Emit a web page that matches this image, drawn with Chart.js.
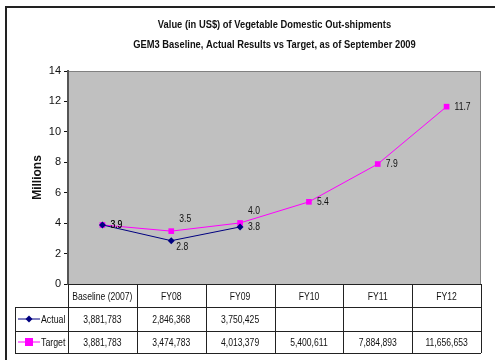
<!DOCTYPE html>
<html>
<head>
<meta charset="utf-8">
<script src="https://cdn.jsdelivr.net/npm/chart.js@4"></script>
<style>
  body { margin: 0; background: #fff; }
  #wrap { width: 495px; height: 360px; }
</style>
</head>
<body>
<div id="wrap"><canvas id="myChart" width="495" height="360"></canvas></div>
<script>
// valeurs (US$) - le graph est en millions
const categories = ['Baseline (2007)', 'FY08', 'FY09', 'FY10', 'FY11', 'FY12'];
const actualUsd = [3881783, 2846368, 3750425];
const targetUsd = [3881783, 3474783, 4013379, 5400611, 7884893, 11656653];
const yMax = 14;
const yStep = 2;
const titleLines = ['Value (in US$) of Vegetable Domestic Out-shipments',
                    'GEM3 Baseline, Actual Results vs Target, as of September 2009'];

// ou mettre les etiquettes de chaque point
const actualLabelPos = ['right', 'below', 'right'];
const targetLabelPos = ['right', 'above', 'above', 'right', 'right', 'right'];

const SANS = '"Liberation Sans", Arial, sans-serif';

const toMillions = v => v / 1000000;
const fmt = v => v.toLocaleString('en-US');

// texte serre (police etroite)
function drawTight(ctx, text, x, y, align, sx) {
  ctx.save();
  ctx.translate(x, y);
  ctx.scale(sx, 1);
  ctx.textAlign = align;
  ctx.fillText(text, 0, 0);
  ctx.restore();
}

// fond blanc + cadre + zone grise + titre
const backgroundPlugin = {
  id: 'backgroundPlugin',
  beforeDraw(chart) {
    const ctx = chart.ctx;
    const a = chart.chartArea;
    ctx.save();
    ctx.fillStyle = '#fff';
    ctx.fillRect(0, 0, chart.width, chart.height);
    ctx.strokeStyle = '#222';
    ctx.lineWidth = 2;
    ctx.beginPath();
    ctx.moveTo(6, chart.height);
    ctx.lineTo(6, 7);
    ctx.lineTo(chart.width, 7);
    ctx.stroke();
    ctx.fillStyle = '#c0c0c0';
    ctx.fillRect(a.left, a.top, a.right - a.left, a.bottom - a.top);
    ctx.strokeStyle = '#808080';
    ctx.lineWidth = 1;
    ctx.strokeRect(a.left + 0.5, a.top + 0.5, a.right - a.left - 1, a.bottom - a.top);

    ctx.fillStyle = '#111';
    ctx.font = 'bold 11px ' + SANS;
    ctx.textBaseline = 'middle';
    const cx = (a.left + a.right) / 2;
    drawTight(ctx, titleLines[0], cx, 25, 'center', 0.85);
    drawTight(ctx, titleLines[1], cx, 45, 'center', 0.85);
    ctx.restore();
  }
};

// etiquettes des valeurs sur les points
const valueLabels = {
  id: 'valueLabels',
  afterDatasetsDraw(chart) {
    const ctx = chart.ctx;
    ctx.save();
    ctx.font = '11px ' + SANS;
    ctx.fillStyle = '#111';
    ctx.textBaseline = 'middle';
    chart.data.datasets.forEach((ds, i) => {
      const meta = chart.getDatasetMeta(i);
      meta.data.forEach((pt, j) => {
        const pos = ds.labelPos[j];
        let x = pt.x + 8, y = pt.y;
        if (pos === 'above') { x = pt.x + 8; y = pt.y - 12; }
        if (pos === 'below') { x = pt.x + 5; y = pt.y + 6; }
        drawTight(ctx, ds.data[j].toFixed(1), x, y, 'left', 0.78);
      });
    });
    ctx.restore();
  }
};

// tableau de donnees sous le graph
const dataTable = {
  id: 'dataTable',
  afterDraw(chart) {
    const ctx = chart.ctx;
    const a = chart.chartArea;
    const xs = chart.scales.x;
    const n = categories.length;
    const edges = [a.left];
    for (let i = 0; i < n - 1; i++) {
      edges.push((xs.getPixelForValue(i) + xs.getPixelForValue(i + 1)) / 2);
    }
    edges.push(a.right);
    const rowTop = [a.bottom, a.bottom + 23, a.bottom + 47];
    const rowBottom = a.bottom + 69;
    const legLeft = 15;

    ctx.save();
    ctx.strokeStyle = '#222';
    ctx.lineWidth = 1;
    ctx.beginPath();
    // lignes horizontales
    ctx.moveTo(a.left, rowTop[0] + 0.5); ctx.lineTo(a.right, rowTop[0] + 0.5);
    ctx.moveTo(legLeft, rowTop[1] + 0.5); ctx.lineTo(a.right, rowTop[1] + 0.5);
    ctx.moveTo(legLeft, rowTop[2] + 0.5); ctx.lineTo(a.right, rowTop[2] + 0.5);
    ctx.moveTo(legLeft, rowBottom + 0.5); ctx.lineTo(a.right, rowBottom + 0.5);
    // lignes verticales
    ctx.moveTo(legLeft + 0.5, rowTop[1]); ctx.lineTo(legLeft + 0.5, rowBottom);
    edges.forEach(x => {
      const px = Math.round(x) + 0.5;
      ctx.moveTo(px, rowTop[0]); ctx.lineTo(px, rowBottom);
    });
    ctx.stroke();

    ctx.font = '11px ' + SANS;
    ctx.fillStyle = '#111';
    ctx.textBaseline = 'middle';
    for (let i = 0; i < n; i++) {
      const cx = (edges[i] + edges[i + 1]) / 2;
      drawTight(ctx, categories[i], cx, (rowTop[0] + rowTop[1]) / 2 + 1, 'center', 0.78);
      if (actualUsd[i] !== undefined) drawTight(ctx, fmt(actualUsd[i]), cx, (rowTop[1] + rowTop[2]) / 2 + 1, 'center', 0.78);
      if (targetUsd[i] !== undefined) drawTight(ctx, fmt(targetUsd[i]), cx, (rowTop[2] + rowBottom) / 2 + 1, 'center', 0.78);
    }

    // legende dans la premiere colonne
    const legRows = [(rowTop[1] + rowTop[2]) / 2, (rowTop[2] + rowBottom) / 2];
    chart.data.datasets.forEach((ds, i) => {
      const y = legRows[i];
      ctx.strokeStyle = ds.borderColor;
      ctx.fillStyle = ds.borderColor;
      ctx.lineWidth = 1;
      ctx.beginPath();
      ctx.moveTo(18, y); ctx.lineTo(40, y);
      ctx.stroke();
      if (ds.pointStyle === 'rectRot') {
        ctx.beginPath();
        ctx.moveTo(29, y - 3.5); ctx.lineTo(32.5, y); ctx.lineTo(29, y + 3.5); ctx.lineTo(25.5, y);
        ctx.closePath(); ctx.fill();
      } else {
        ctx.fillRect(25, y - 4, 8, 8);
      }
      ctx.fillStyle = '#111';
      drawTight(ctx, ds.label, 41, y + 1, 'left', 0.8);
    });
    ctx.restore();
  }
};

const config = {
  type: 'line',
  data: {
    labels: categories,
    datasets: [
      {
        label: 'Actual',
        data: actualUsd.map(toMillions),
        labelPos: actualLabelPos,
        borderColor: '#000080',
        backgroundColor: '#000080',
        borderWidth: 1,
        pointStyle: 'rectRot',
        pointRadius: 3.5,
        pointBorderWidth: 0,
        tension: 0
      },
      {
        label: 'Target',
        data: targetUsd.map(toMillions),
        labelPos: targetLabelPos,
        borderColor: '#ff00ff',
        backgroundColor: '#ff00ff',
        borderWidth: 1,
        pointStyle: 'rect',
        pointRadius: 4,
        pointBorderWidth: 0,
        tension: 0
      }
    ]
  },
  options: {
    responsive: false,
    animation: false,
    layout: { padding: { left: 30, right: 14, top: 71, bottom: 76 } },
    plugins: {
      legend: { display: false },
      tooltip: { enabled: false },
      title: { display: false }
    },
    scales: {
      x: {
        display: false,
        offset: true
      },
      y: {
        min: 0,
        max: yMax,
        afterFit(scale) { scale.width = 38; },
        ticks: {
          stepSize: yStep,
          color: '#111',
          padding: 3,
          font: { family: SANS, size: 11 }
        },
        grid: {
          drawOnChartArea: false,
          color: '#111',
          tickLength: 4
        },
        border: { color: '#555', width: 2 },
        title: {
          display: true,
          text: 'Millions',
          color: '#111',
          font: { family: SANS, size: 12, weight: 'bold' },
          padding: 0
        }
      }
    }
  },
  plugins: [backgroundPlugin, valueLabels, dataTable]
};

const myChart = new Chart(document.getElementById('myChart'), config);
</script>
</body>
</html>
